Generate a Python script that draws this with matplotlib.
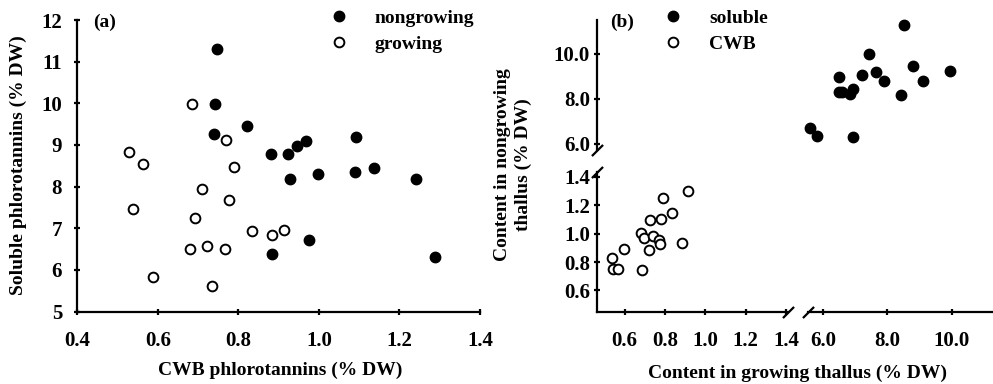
import numpy as np
import matplotlib
matplotlib.use('Agg')
import matplotlib.pyplot as plt
from matplotlib.ticker import FormatStrFormatter

# panel (a): CWB vs soluble phlorotannins
nongrow_cwb = [0.748, 0.742, 0.740, 0.821, 0.880, 0.922, 0.945, 0.967, 0.927,
               0.998, 1.091, 1.089, 1.138, 1.240, 0.976, 0.883, 1.288]
nongrow_sol = [11.30, 9.98, 9.26, 9.46, 8.79, 8.78, 8.98, 9.09, 8.19,
               8.31, 9.20, 8.34, 8.44, 8.19, 6.72, 6.39, 6.31]
grow_cwb = [0.686, 0.770, 0.529, 0.562, 0.789, 0.710, 0.776, 0.539, 0.693,
            0.834, 0.883, 0.913, 0.681, 0.722, 0.767, 0.588, 0.734]
grow_sol = [9.99, 9.12, 8.82, 8.54, 8.46, 7.94, 7.68, 7.45, 7.25,
            6.94, 6.84, 6.95, 6.50, 6.57, 6.50, 5.82, 5.61]

# panel (b): growing vs nongrowing thallus
sol_growing = [5.61, 5.83, 6.95, 6.49, 6.51, 6.59, 6.83, 6.93, 7.23,
               7.44, 7.65, 7.91, 8.44, 8.53, 8.80, 9.10, 9.96]
sol_nongrowing = [6.73, 6.37, 6.33, 8.98, 8.33, 8.31, 8.21, 8.44, 9.08,
                  9.99, 9.19, 8.79, 8.19, 11.29, 9.45, 8.79, 9.26]
cwb_growing = [0.535, 0.544, 0.569, 0.595, 0.688, 0.683, 0.696, 0.718, 0.726,
               0.740, 0.771, 0.773, 0.780, 0.789, 0.835, 0.882, 0.913]
cwb_nongrowing = [0.828, 0.748, 0.753, 0.889, 0.746, 1.005, 0.972, 0.887, 1.094,
                  0.981, 0.953, 0.929, 1.099, 1.249, 1.146, 0.936, 1.299]

plt.rcParams['font.family'] = ['Liberation Serif', 'DejaVu Serif']
plt.rcParams['font.weight'] = 'bold'
plt.rcParams['font.size'] = 14

W, H = 993, 384
fig = plt.figure(figsize=(W / 100, H / 100), dpi=100)


def px_axes(x0, y0, x1, y1):
    return fig.add_axes([x0 / W, 1 - y1 / H, (x1 - x0) / W, (y1 - y0) / H])


def style(ax, left=True, bottom=True, ypad=3):
    for s in ['top', 'right']:
        ax.spines[s].set_visible(False)
    ax.spines['left'].set_visible(left)
    ax.spines['bottom'].set_visible(bottom)
    for s in ['left', 'bottom']:
        ax.spines[s].set_linewidth(1.6)
    ax.patch.set_alpha(0)
    ax.tick_params(direction='inout', length=4, width=1.6, labelsize=15)
    ax.tick_params(axis='x', pad=12)
    ax.tick_params(axis='y', pad=ypad)
    if not left:
        ax.set_yticks([])
    if not bottom:
        ax.set_xticks([])


filled = dict(marker='o', ms=7.5, mfc='black', mec='black', ls='none', clip_on=False)
hollow = dict(marker='o', ms=7, mfc='white', mec='black', mew=1.4, ls='none', clip_on=False)
leg_kw = dict(loc='upper left', frameon=False, handlelength=1.0, handletextpad=1.36,
              labelspacing=0.45, borderpad=0, borderaxespad=0, fontsize=14)

# ---- panel (a)
ax = px_axes(77.3, 20, 480, 311.5)
style(ax, ypad=9)
ax.plot(nongrow_cwb, nongrow_sol, label='nongrowing', **filled)
ax.plot(grow_cwb, grow_sol, label='growing', **hollow)
ax.set_xlim(0.4, 1.4)
ax.set_ylim(5, 12)
ax.set_xticks(np.arange(0.4, 1.41, 0.2))
ax.set_yticks(range(5, 13))
ax.xaxis.set_major_formatter(FormatStrFormatter('%.1f'))
ax.legend(bbox_to_anchor=(329 / W, 1 - 9 / H), bbox_transform=fig.transFigure, **leg_kw)
fig.text(93 / W, 1 - 22 / H, '(a)', va='center', ha='left')
fig.text(280 / W, 1 - 370 / H, 'CWB phlorotannins (% DW)', ha='center', va='center')
fig.text(18 / W, 1 - 165 / H, 'Soluble phlorotannins (% DW)', ha='center',
         va='center', rotation=90)

# ---- panel (b), broken axes
xl_lo, xl_hi = (0.461, 1.41), (5.54, 11.28)
yl_lo, yl_hi = (0.452, 1.433), (5.73, 11.51)

ax_ll = px_axes(596.7, 172, 788, 311.5)
ax_ul = px_axes(596.7, 20, 788, 150)
ax_lr = px_axes(808, 172, 993, 311.5)
ax_ur = px_axes(808, 20, 993, 150)

style(ax_ll)
style(ax_ul, bottom=False)
style(ax_lr, left=False)
style(ax_ur, left=False, bottom=False)

for a in (ax_ll, ax_ul):
    a.set_xlim(*xl_lo)
for a in (ax_lr, ax_ur):
    a.set_xlim(*xl_hi)
for a in (ax_ll, ax_lr):
    a.set_ylim(*yl_lo)
for a in (ax_ul, ax_ur):
    a.set_ylim(*yl_hi)

ax_ll.set_xticks(np.arange(0.6, 1.41, 0.2))
ax_ll.set_yticks(np.arange(0.6, 1.41, 0.2))
ax_ll.xaxis.set_major_formatter(FormatStrFormatter('%.1f'))
ax_ll.yaxis.set_major_formatter(FormatStrFormatter('%.1f'))
ax_ul.set_yticks([6, 8, 10])
ax_ul.yaxis.set_major_formatter(FormatStrFormatter('%.1f'))
ax_lr.set_xticks([6, 8, 10])
ax_lr.xaxis.set_major_formatter(FormatStrFormatter('%.1f'))

ax_ur.plot(sol_growing, sol_nongrowing, label='soluble', **filled)
ax_ll.plot(cwb_growing, cwb_nongrowing, label='CWB', **hollow)

# break marks
brk = dict(marker=[(-1, -1), (1, 1)], markersize=8, ls='none', color='k',
           mec='k', mew=1.6, clip_on=False)
ax_ul.plot([0], [0], transform=ax_ul.transAxes, **brk)
ax_ll.plot([0], [1], transform=ax_ll.transAxes, **brk)
ax_ll.plot([1], [0], transform=ax_ll.transAxes, **brk)
ax_lr.plot([0], [0], transform=ax_lr.transAxes, **brk)

h1, l1 = ax_ur.get_legend_handles_labels()
h2, l2 = ax_ll.get_legend_handles_labels()
fig.legend(h1 + h2, l1 + l2, bbox_to_anchor=(663 / W, 1 - 9 / H), **leg_kw)
fig.text(610 / W, 1 - 22 / H, '(b)', va='center', ha='left')
fig.text(798 / W, 1 - 373 / H, 'Content in growing thallus (% DW)', ha='center', va='center')
fig.text(513 / W, 1 - 165 / H, 'Content in nongrowing\nthallus (% DW)', ha='center',
         va='center', rotation=90, multialignment='center', linespacing=1.25)

fig.savefig('out.png', dpi=100)
